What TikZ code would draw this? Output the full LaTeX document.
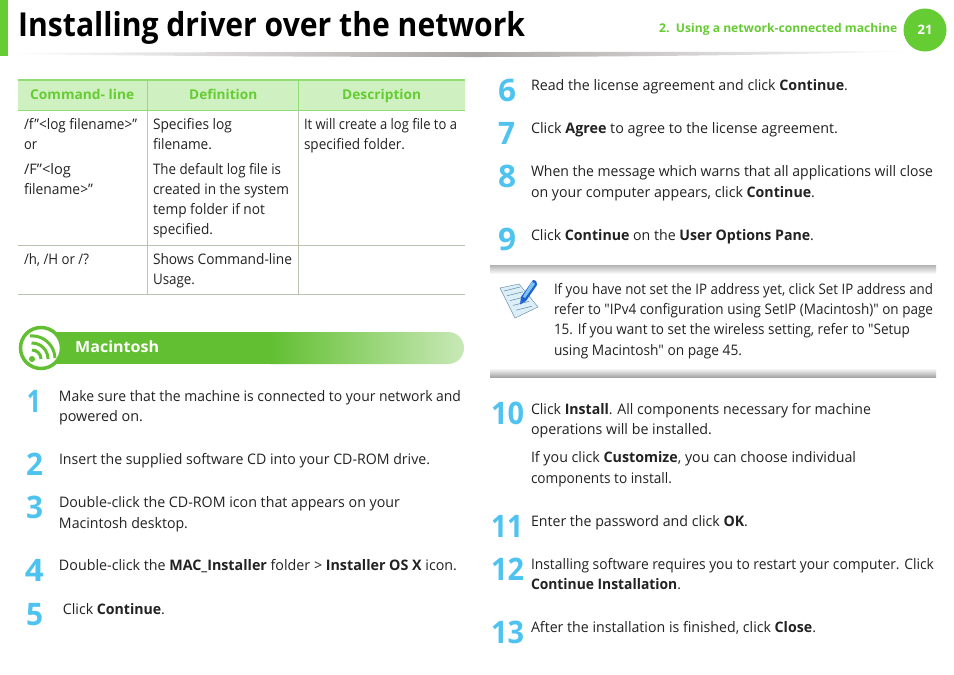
\documentclass[tikz,border=0pt]{standalone}
\usepackage{fontspec}
\usepackage{graphicx}
\setmainfont[Ligatures=TeXOff]{Open Sans}
\definecolor{gr}{HTML}{66CC33}
\definecolor{grbar}{HTML}{62BF31}
\definecolor{hdrfill}{HTML}{CFF0C0}
\definecolor{hdrline}{HTML}{8FDD73}
\definecolor{hdrtext}{HTML}{66CC33}
\definecolor{stepblue}{HTML}{4FC3F0}
\definecolor{rule}{HTML}{B9C4B0}
\definecolor{ink}{HTML}{222222}
\definecolor{shadowgray}{HTML}{ABA7A7}
\definecolor{paper}{HTML}{DCEFF8}
\definecolor{paperline}{HTML}{6F93A8}
\definecolor{pen}{HTML}{1F62D2}
\definecolor{penlight}{HTML}{7FC4F0}
\newcounter{tn}
% x, baseline, width, text
\newcommand{\TL}[4]{\stepcounter{tn}\node[txt] (t\arabic{tn}) at (#1,#2) {\resizebox{#3pt}{\height}{#4}};}
\newcommand{\NUM}[4]{\stepcounter{tn}\node[numb] (t\arabic{tn}) at (#1,#2) {\resizebox{#3pt}{\height}{#4}};}
\tikzset{
  txt/.style={anchor=base west,inner sep=0pt,outer sep=0pt,text=ink,font=\fontsize{14.5}{17}\selectfont},
  numb/.style={anchor=base west,inner sep=0pt,outer sep=0pt,text=stepblue,font=\fontsize{31}{34}\selectfont\bfseries},
  hdr/.style={anchor=base west,inner sep=0pt,text=hdrtext,font=\fontsize{13.5}{15}\selectfont\bfseries},
  cellrule/.style={draw=rule,line width=0.7pt},
  vrule/.style={draw=hdrline,line width=0.8pt},
  wave/.style={draw=grbar,line width=3pt},
}
\begin{document}
\begin{tikzpicture}[x=1pt,y=-1pt]
\useasboundingbox (0,0) rectangle (954,675);
\fill[white] (0,0) rectangle (954,675);
% header
\shade[left color=white,right color=shadowgray] (8,53) .. controls (200,52) and (350,52) .. (475,52) -- (475,57) .. controls (350,57) and (150,56) .. (8,54) -- cycle;
\shade[left color=shadowgray,right color=white] (475,52) .. controls (600,52) and (800,52) .. (915,51) .. controls (800,55) and (600,57) .. (475,57) -- cycle;
\fill[gr] (0,0) rectangle (8,56);
\node[anchor=base west,inner sep=0pt,font=\fontsize{33}{36}\selectfont\bfseries,text=black] (title) at (18,36) {\resizebox{507pt}{\height}{Installing driver over the network}};
\node[anchor=base west,inner sep=0pt,font=\fontsize{12}{14}\selectfont\bfseries,text=gr] (chapter) at (659,32) {\resizebox{238pt}{\height}{2.\ \ Using a network-connected machine}};
\node[circle,fill=gr,minimum size=43pt,inner sep=0pt,text=white,font=\fontsize{13}{15}\selectfont\bfseries] (pageno) at (925,30) {21};
% table
\fill[hdrfill] (18,80) rectangle (465,110);
\draw[hdrline,line width=1.5pt] (18,80) -- (465,80);
\draw[hdrline,line width=0.8pt] (18,110) -- (465,110);
\draw[vrule] (147.5,80) -- (147.5,110);
\draw[vrule] (298.5,80) -- (298.5,110);
\draw[cellrule] (147.5,110) -- (147.5,294);
\draw[cellrule] (298.5,110) -- (298.5,294);
\draw[cellrule] (18,245.5) -- (465,245.5);
\draw[cellrule] (18,294.5) -- (465,294.5);
\node[hdr] (h1) at (30,99) {\resizebox{104pt}{\height}{Command- line}};
\node[hdr] (h2) at (189,99) {\resizebox{68pt}{\height}{Definition}};
\node[hdr] (h3) at (342,99) {\resizebox{79pt}{\height}{Description}};
\TL{24}{129}{113}{/f”<log filename>”}
\TL{24}{149}{13}{or}
\TL{24}{174}{47}{/F”<log}
\TL{24}{194}{69}{filename>”}
\TL{153}{129}{79}{Specifies log}
\TL{153}{149}{59}{filename.}
\TL{153}{174}{128}{The default log file is}
\TL{153}{194}{136}{created in the system}
\TL{153}{214}{112}{temp folder if not}
\TL{153}{234}{60}{specified.}
\TL{304}{129}{153}{It will create a log file to a}
\TL{304}{149}{101}{specified folder.}
\TL{24}{264}{65}{/h, /H or /?}
\TL{153}{264}{139}{Shows Command-line}
\TL{153}{284}{42}{Usage.}
% Macintosh bar
\fill[grbar] (30,332) rectangle (270,364);
\shade[left color=grbar,right color=grbar!35!white] (270,332) -- (448,332) arc[start angle=-90,end angle=90,radius=16] -- (270,364) -- cycle;
\node[circle,draw=grbar,fill=white,line width=3.5pt,minimum size=41pt,inner sep=0pt] (wifi) at (41,348) {};
\fill[grbar] (32,359) circle[radius=3];
\draw[wave] (32,350) arc[start angle=-90,end angle=0,radius=9];
\draw[wave] (31.5,343) arc[start angle=-92,end angle=0,radius=16];
\draw[wave] (30,336) arc[start angle=-95,end angle=-2,radius=23];
\node[anchor=base west,inner sep=0pt,font=\fontsize{15.5}{17}\selectfont\bfseries,text=white] (mac) at (75,352) {\resizebox{84pt}{\height}{Macintosh}};
% left steps
\NUM{27}{412}{14}{1}
\TL{59}{401}{402}{Make sure that the machine is connected to your network and}
\TL{59}{421}{84}{powered on.}
\NUM{26}{475}{17}{2}
\TL{59}{464}{371}{Insert the supplied software CD into your CD-ROM drive.}
\NUM{26}{518}{17}{3}
\TL{59}{507}{341}{Double-click the CD-ROM icon that appears on your}
\TL{59}{528}{129}{Macintosh desktop.}
\NUM{25}{581}{19}{4}
\TL{59}{570}{398}{Double-click the \textbf{MAC\_Installer} folder > \textbf{Installer OS X} icon.}
\NUM{26}{625}{17}{5}
\TL{63}{614}{102}{Click \textbf{Continue}.}
% right steps
\NUM{498}{101}{18}{6}
\TL{531}{90}{317}{Read the license agreement and click \textbf{Continue}.}
\NUM{498}{144}{17}{7}
\TL{531}{133}{307}{Click \textbf{Agree} to agree to the license agreement.}
\NUM{498}{187}{18}{8}
\TL{531}{176}{402}{When the message which warns that all applications will close}
\TL{531}{197}{284}{on your computer appears, click \textbf{Continue}.}
\NUM{498}{250}{18}{9}
\TL{531}{240}{283}{Click \textbf{Continue} on the \textbf{User Options Pane}.}
% note
\shade[top color=black!30,bottom color=white] (490,265) rectangle (936,274);
\shade[top color=white,bottom color=black!35] (490,368) rectangle (936,377);
% note icon
\fill[paper,draw=paperline,line width=0.5pt] (500,288) -- (519,284) -- (538,307) -- (515,318) -- cycle;
\foreach \k in {0,1,2,3,4}{\draw[paperline,line width=0.6pt] (504+3*\k,291+4.8*\k) -- (520+3*\k,287+4.8*\k);}
\fill[pen] (533,280) .. controls (536,280) and (538,283) .. (537,285) -- (526,301) -- (520,304.5) -- (521,297) -- cycle;
\fill[penlight] (532,281.5) -- (535,284) -- (525,298) -- (523,296.5) -- cycle;
\TL{554}{294}{379}{If you have not set the IP address yet, click Set IP address and}
\TL{554}{314}{379}{refer to "IPv4 configuration using SetIP (Macintosh)" on page}
\TL{554}{334}{356}{15. If you want to set the wireless setting, refer to "Setup}
\TL{554}{355}{188}{using Macintosh" on page 45.}
\NUM{491}{424}{33}{10}
\TL{531}{414}{340}{Click \textbf{Install}. All components necessary for machine}
\TL{531}{434}{181}{operations will be installed.}
\TL{531}{462}{325}{If you click \textbf{Customize}, you can choose individual}
\TL{531}{483}{141}{components to install.}
\NUM{491}{537}{32}{11}
\TL{531}{526}{217}{Enter the password and click \textbf{OK}.}
\NUM{491}{580}{33}{12}
\TL{531}{569}{403}{Installing software requires you to restart your computer. Click}
\TL{531}{589}{150}{\textbf{Continue Installation}.}
\NUM{491}{643}{33}{13}
\TL{531}{632}{285}{After the installation is finished, click \textbf{Close}.}
\end{tikzpicture}
\end{document}
